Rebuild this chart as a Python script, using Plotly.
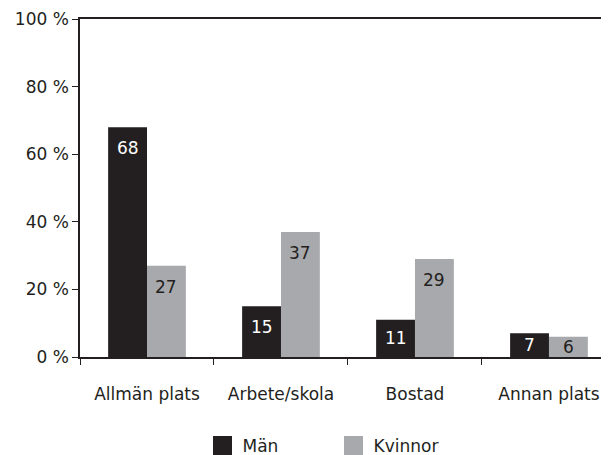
import plotly.graph_objects as go

categories = ["Allmän plats", "Arbete/skola", "Bostad", "Annan plats"]
man_values = [68, 15, 11, 7]
kvinnor_values = [27, 37, 29, 6]
series_names = ["Män", "Kvinnor"]
y_tick_vals = [0, 20, 40, 60, 80, 100]
y_tick_text = ["0 %", "20 %", "40 %", "60 %", "80 %", "100 %"]

BLACK = "#231f20"
GRAY = "#a7a9ac"
TXT = "#231f20"
FONT = "DejaVu Sans"
FS = 17
bargap = 0.42
W, H = 601, 447

fig = go.Figure()
fig.add_trace(go.Bar(x=categories, y=man_values, name=series_names[0], showlegend=False,
                     marker=dict(color=BLACK, line=dict(width=0))))
fig.add_trace(go.Bar(x=categories, y=kvinnor_values, name=series_names[1], showlegend=False,
                     marker=dict(color=GRAY, line=dict(width=0))))
# legend entries with larger square swatches
for name, col in zip(series_names, [BLACK, GRAY]):
    fig.add_trace(go.Scatter(x=[None], y=[None], mode="markers", name=name,
                             marker=dict(symbol="square", size=16, color=col,
                                         line=dict(width=3, color=col))))

off = (1 - bargap) / 4
annotations = []
for vals, sign, col in [(man_values, -1, "white"), (kvinnor_values, 1, TXT)]:
    for i, v in enumerate(vals):
        if v > 12:
            y, ys = v, -21
        else:
            y, ys = v / 2, 0
        annotations.append(dict(x=i + sign * off, y=y, yshift=ys, xref="x", yref="y",
                                text=str(v), showarrow=False, yanchor="middle",
                                font=dict(size=FS, color=col, family=FONT)))

fig.update_layout(
    width=W, height=H,
    margin=dict(l=72, r=0, t=11, b=98, autoexpand=False),
    paper_bgcolor="white", plot_bgcolor="white",
    barmode="group", bargap=bargap, bargroupgap=0,
    font=dict(family=FONT, size=FS, color=TXT),
    annotations=annotations,
    showlegend=True,
    legend=dict(orientation="h", x=(202.5 - 80) / 529, xanchor="left",
                yref="container", y=1 - 438 / H, yanchor="middle",
                font=dict(size=FS, color=TXT), entrywidth=86, entrywidthmode="pixels",
                itemclick=False, bgcolor="rgba(0,0,0,0)"),
)
fig.update_xaxes(type="category", range=[-0.5, 3.448], showline=True, linecolor=TXT,
                 linewidth=1.5, mirror=True, ticks="outside", ticklen=6, tickcolor=TXT,
                 tickson="boundaries", showgrid=False, ticklabelstandoff=21,
                 automargin=False, tickfont=dict(size=FS, color=TXT))
fig.update_yaxes(range=[0, 100], tickvals=y_tick_vals, ticktext=y_tick_text,
                 showline=True, linecolor=TXT, linewidth=1.5, ticks="outside",
                 ticklen=6, tickcolor=TXT, showgrid=False, zeroline=False,
                 automargin=False, tickfont=dict(size=FS, color=TXT))

fig.write_html("out.html")
